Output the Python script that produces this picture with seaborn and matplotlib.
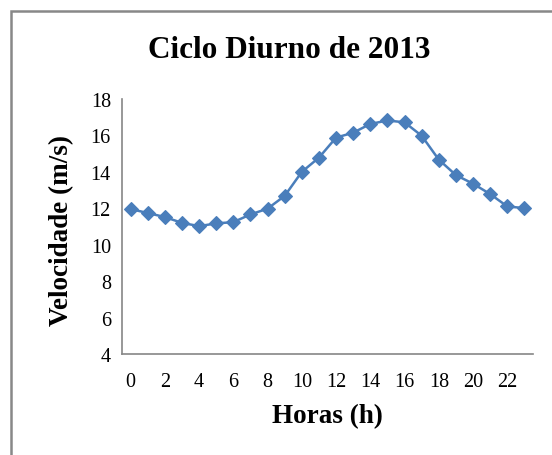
import matplotlib
matplotlib.use("Agg")
import matplotlib.pyplot as plt
import seaborn as sns
import pandas as pd
from matplotlib.patches import Rectangle
from matplotlib.ticker import FixedLocator, NullFormatter

hours = list(range(24))
velocity = [11.96, 11.74, 11.52, 11.20, 11.02, 11.17, 11.24, 11.66, 11.98, 12.68,
            14.00, 14.78, 15.88, 16.15, 16.63, 16.82, 16.72, 15.98, 14.67, 13.82,
            13.35, 12.78, 12.10, 12.01]
title = "Ciclo Diurno de 2013"
xlabel = "Horas (h)"
ylabel = "Velocidade (m/s)"
xtick_labels = [str(h) for h in range(0, 24, 2)]
yticks = [4, 6, 8, 10, 12, 14, 16, 18]

sns.set_style("white")
plt.rcParams['font.family'] = ['Liberation Serif', 'DejaVu Serif']
plt.rcParams['text.color'] = 'black'
plt.rcParams['axes.labelcolor'] = 'black'
plt.rcParams['xtick.color'] = 'black'
plt.rcParams['ytick.color'] = 'black'

W, H = 552, 456
fig = plt.figure(figsize=(W / 100, H / 100), dpi=100)
ax = fig.add_axes([122 / W, 1 - 355 / H, (533 - 122) / W, (355 - 100) / H])

df = pd.DataFrame({"hora": hours, "vel": velocity})
color = "#4A7EBB"
sns.lineplot(data=df, x="hora", y="vel", ax=ax, color=color, linewidth=1.8,
             marker="D", markersize=7.4, markeredgecolor=color, markeredgewidth=0.8)

ax.set_xlim(-0.5, 23.5)
ax.set_ylim(4, 18)
ax.set_yticks(yticks)
ax.set_yticklabels([str(v) for v in yticks], fontsize=14.5, color="black")
ax.set_xticks(list(range(0, 24, 2)))
ax.set_xticklabels(xtick_labels, fontsize=14.5, color="black")
ax.xaxis.set_minor_locator(FixedLocator([i - 0.5 for i in range(25)]))
ax.xaxis.set_minor_formatter(NullFormatter())

axis_color = "#868686"
for s in ["top", "right"]:
    ax.spines[s].set_visible(False)
for s in ["left", "bottom"]:
    ax.spines[s].set_color(axis_color)
    ax.spines[s].set_linewidth(1.2)

ax.tick_params(axis="x", which="major", length=0, pad=13, labelcolor="black")
ax.tick_params(axis="x", which="minor", length=5, width=1.2, color=axis_color, direction="out")
ax.tick_params(axis="y", which="major", length=5, width=1.2, color=axis_color, direction="out", pad=3, labelcolor="black")
ax.grid(False)

ax.set_xlabel("")
ax.set_ylabel("")
fig.text(327 / W, 1 - 417 / H, xlabel, fontsize=19.5, fontweight="bold", ha="center", va="center", color="black")
fig.text(62 / W, 1 - 231 / H, ylabel, fontsize=19.5, fontweight="bold", ha="center", va="center", rotation=90, color="black")
fig.text(289 / W, 1 - 51 / H, title, fontsize=22.5, fontweight="bold", ha="center", va="center", color="black")

fig.patches.append(Rectangle((11 / W, -0.05), 1.1, 1 - 12 / H + 0.05, transform=fig.transFigure,
                             fill=False, edgecolor="#888888", linewidth=1.8, zorder=0))

fig.savefig("out.png", dpi=100)
